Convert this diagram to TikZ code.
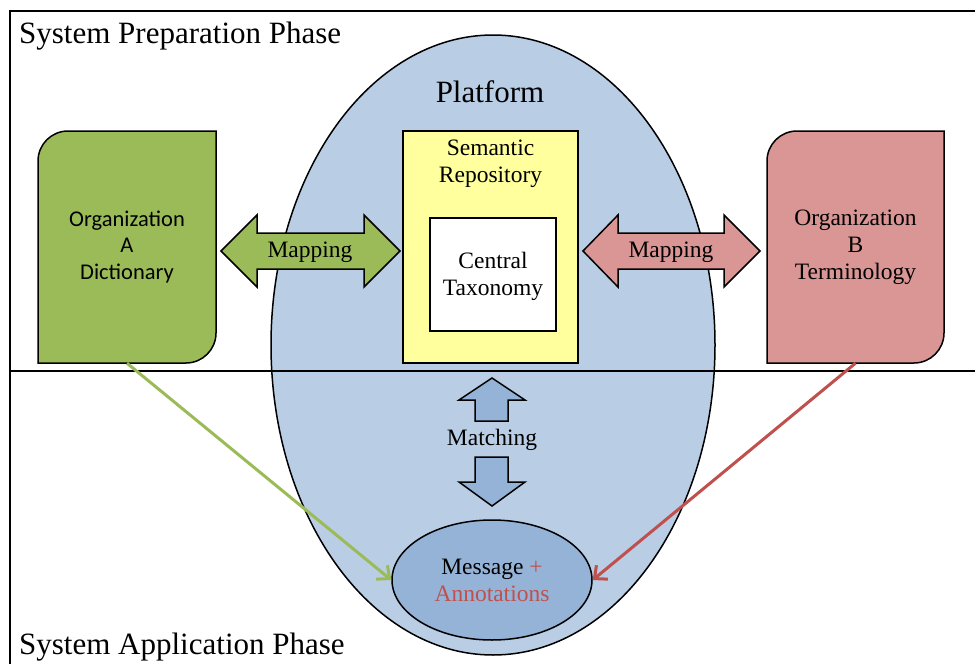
\documentclass[tikz,border=0pt]{standalone}
\usepackage{fontspec}
\setmainfont{Liberation Serif}
\newfontfamily\calib{Carlito}
\usetikzlibrary{shapes.geometric,arrows.meta}
\definecolor{ellblue}{RGB}{185,205,229}
\definecolor{msgblue}{RGB}{149,179,215}
\definecolor{orggreen}{RGB}{155,187,89}
\definecolor{orgred}{RGB}{217,150,148}
\definecolor{arrred}{RGB}{192,80,77}
\definecolor{repoyellow}{RGB}{255,255,158}
\begin{document}
\begin{tikzpicture}[x=1pt,y=-1pt,
  frameline/.style={line width=2.4pt,black},
  shapeline/.style={draw=black,line width=1.5pt},
  serif/.style={font=\fontsize{23.5}{27}\selectfont,align=center,inner sep=0pt},
  sans/.style={font=\calib\fontsize{22.5}{26.5}\selectfont,align=center,inner sep=0pt},
  phase/.style={font=\fontsize{31}{30}\selectfont,anchor=west,inner sep=0pt},
  conn/.style={line width=3pt,-{Straight Barb[length=10pt,width=18pt,line width=3pt]}}
]
\useasboundingbox (0,0) rectangle (975,664);
\fill[white] (0,0) rectangle (975,664);
% frame
\draw[frameline] (10,664) -- (10,11) -- (975,11);
% platform ellipse
\node[ellipse,shapeline,fill=ellblue,minimum width=444pt,minimum height=620pt,inner sep=0pt] (platform) at (493,345) {};
\node[font=\fontsize{31}{30}\selectfont,inner sep=0pt] (platlabel) at (490,92) {Platform};
% divider
\draw[frameline] (10,371) -- (975,371);
% phases
\node[phase] (prep) at (19,36) {System Preparation Phase};
\node[phase] (app) at (19,647) {System Application Phase};
% repository
\node[shapeline,fill=repoyellow,minimum width=175pt,minimum height=232pt,inner sep=0pt] (repo) at (490.5,247) {};
\node[serif] (repotext) at (490.5,164) {Semantic\\Repository};
\node[shapeline,fill=white,minimum width=126pt,minimum height=113pt,inner sep=0pt] (tax) at (493,274.5) {};
\node[serif] (taxtext) at (493,276) {Central\\Taxonomy};
% organization A
\draw[shapeline,fill=orggreen] (216,131) -- (216,333) arc[start angle=0,end angle=90,radius=30] -- (38,363) -- (38,161) arc[start angle=180,end angle=270,radius=30] -- cycle;
\node[sans,minimum width=178pt,minimum height=232pt] (orgA) at (127,247) {Organization\\A\\Dictionary};
% organization B
\draw[shapeline,fill=orgred] (944,131) -- (944,333) arc[start angle=0,end angle=90,radius=30] -- (767,363) -- (767,161) arc[start angle=180,end angle=270,radius=30] -- cycle;
\node[serif,minimum width=177pt,minimum height=232pt] (orgB) at (855.5,247) {Organization\\B\\Terminology};
% mapping arrows
\draw[shapeline,fill=orggreen] (221,251) -- (257,215) -- (257,233) -- (364,233) -- (364,215) -- (400,251) -- (364,287) -- (364,269) -- (257,269) -- (257,287) -- cycle;
\node[serif] (mapA) at (310,252) {Mapping};
\draw[shapeline,fill=orgred] (583,251) -- (618,215) -- (618,233) -- (724,233) -- (724,215) -- (760,251) -- (724,287) -- (724,269) -- (618,269) -- (618,287) -- cycle;
\node[serif] (mapB) at (671,252) {Mapping};
% matching arrows
\draw[shapeline,fill=msgblue] (492,378) -- (525,400) -- (508,400) -- (508,421) -- (475,421) -- (475,400) -- (459,400) -- cycle;
\node[serif] (matching) at (492,440) {Matching};
\draw[shapeline,fill=msgblue] (492,506) -- (525,482) -- (508,482) -- (508,457) -- (475,457) -- (475,482) -- (459,482) -- cycle;
% message
\node[ellipse,shapeline,fill=msgblue,minimum width=200pt,minimum height=120pt,inner sep=0pt,font=\fontsize{23.5}{27}\selectfont,align=center] (msg) at (492,580) {Message {\color{arrred}+}\\{\color{arrred}Annotations}};
% connectors
\draw[conn,orggreen] (orgA.south) -- (msg.west);
\draw[conn,arrred] (orgB.south) -- (msg.east);
\end{tikzpicture}
\end{document}
